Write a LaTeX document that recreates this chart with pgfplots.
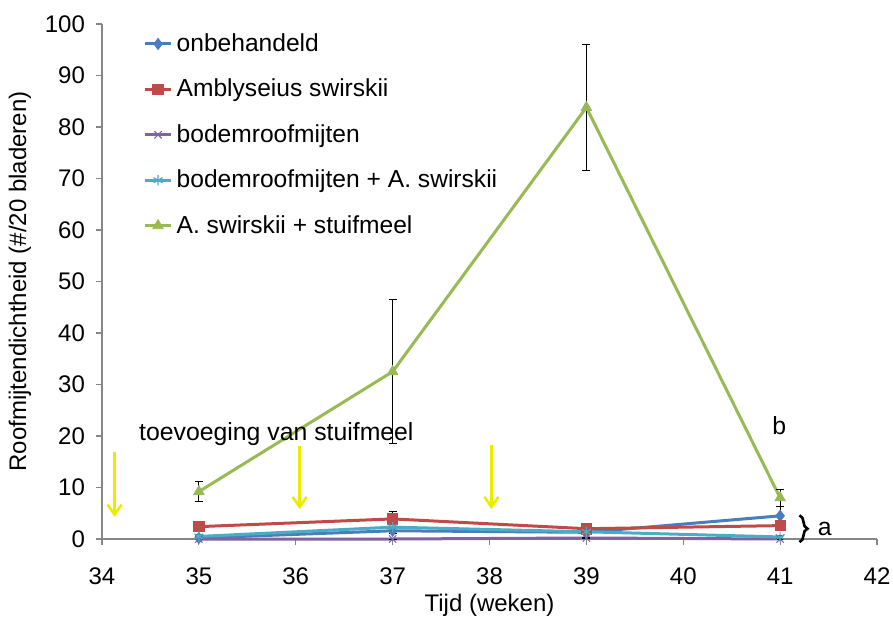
\documentclass[border=0pt]{standalone}
\usepackage{pgfplots}
\pgfplotsset{compat=1.18}
\usepackage{fontspec}
\setmainfont{Liberation Sans}
\usetikzlibrary{calc,arrows.meta,decorations.pathreplacing}
\definecolor{cblue}{RGB}{74,126,187}
\definecolor{cred}{RGB}{190,75,72}
\definecolor{cpurple}{RGB}{128,100,162}
\definecolor{ccyan}{RGB}{75,172,198}
\definecolor{cgreen}{RGB}{152,185,84}
\definecolor{cyel}{RGB}{235,235,0}
\definecolor{axgray}{RGB}{134,134,134}
\begin{document}
\begin{tikzpicture}
\begin{axis}[
  scale only axis, width=387.5pt, height=257.5pt,
  xmin=34, xmax=42, ymin=0, ymax=100,
  xtick={34,35,...,42}, ytick={0,10,...,100},
  axis x line*=bottom, axis y line*=left,
  axis line style={axgray, line width=0.6pt},
  tick style={axgray, line width=0.6pt},
  tick align=outside, major tick length=3pt,
  font=\fontsize{12}{14}\selectfont,
  /pgf/number format/assume math mode=true,
  xlabel={Tijd (weken)}, ylabel={Roofmijtendichtheid (\#/20 bladeren)},
  xlabel style={at={(axis description cs:0.5,0)}, anchor=center, yshift=-33pt},
  ylabel style={at={(axis description cs:-0.106,0.5)}, anchor=center, rotate=0},
  xticklabel style={yshift=-8pt},
  yticklabel style={xshift=-2pt},
  clip=false,
  legend cell align=left,
  legend style={at={(rel axis cs:0.053,0.99)}, anchor=north west, draw=none, fill=none,
    font=\fontsize{12.3}{14}\selectfont, row sep=8.3pt, inner sep=0pt},
  legend image code/.code={\draw[mark repeat=2,mark phase=2] plot coordinates {(0cm,0cm) (0.23cm,0cm) (0.46cm,0cm)};},
  every axis plot/.append style={line width=1.5pt},
  error bars/error bar style={black, line width=0.5pt},
  error bars/error mark options={black, rotate=90, mark size=2pt, line width=0.5pt},
]
\addplot[cblue, mark=diamond*, mark size=2.8pt, mark options={solid, fill=cblue, line width=0.4pt},
  error bars/.cd, y dir=both, y explicit] coordinates {
  (35,0.2) +- (0,0.3) (37,1.6) +- (0,0.5) (39,1.3) +- (0,0.3) (41,4.5) +- (0,1.9)};
\addlegendentry{onbehandeld}
\addplot[cred, mark=square*, mark size=2.6pt, mark options={solid, fill=cred, line width=0.4pt},
  error bars/.cd, y dir=both, y explicit] coordinates {
  (35,2.4) +- (0,0.8) (37,3.9) +- (0,1.4) (39,2.0) +- (0,0.4) (41,2.6) +- (0,0.6)};
\addlegendentry{Amblyseius swirskii}
\addplot[cpurple, mark=x, mark size=2.6pt, mark options={solid, line width=0.6pt},
  error bars/.cd, y dir=both, y explicit] coordinates {
  (35,0) +- (0,0) (37,0) +- (0,0) (39,0.2) +- (0,0.1) (41,0) +- (0,0)};
\addlegendentry{bodemroofmijten}
\addplot[ccyan, mark=asterisk, mark size=2.6pt, mark options={solid, line width=0.6pt},
  error bars/.cd, y dir=both, y explicit] coordinates {
  (35,0.5) +- (0,0.3) (37,2.3) +- (0,0.8) (39,1.4) +- (0,0.4) (41,0.4) +- (0,0.3)};
\addlegendentry{bodemroofmijten + A. swirskii}
\addplot[cgreen, mark=triangle*, mark size=3pt, mark options={solid, fill=cgreen, line width=0.4pt},
  error bars/.cd, y dir=both, y explicit] coordinates {
  (35,9.2) +- (0,1.9) (37,32.5) +- (0,14.0) (39,83.8) +- (0,12.2) (41,8.0) +- (0,1.6)};
\addlegendentry{A. swirskii + stuifmeel}
% annotations
\draw[cyel, line width=1.3pt, -{Straight Barb[length=5pt,width=7pt]}] (axis cs:34.13,16.9) -- (axis cs:34.13,4.3);
\draw[cyel, line width=1.3pt, -{Straight Barb[length=5pt,width=7pt]}] (axis cs:36.04,18.0) -- (axis cs:36.04,5.8);
\draw[cyel, line width=1.3pt, -{Straight Barb[length=5pt,width=7pt]}] (axis cs:38.02,18.3) -- (axis cs:38.02,5.8);
\node[anchor=west, inner sep=0pt, font=\fontsize{12.4}{14}\selectfont] at (axis cs:34.38,20.3) {toevoeging van stuifmeel};
\node[inner sep=0pt, font=\fontsize{12.4}{14}\selectfont] at (axis cs:40.99,22.1) {b};
\node[inner sep=0pt, font=\fontsize{12.4}{14}\selectfont] at (axis cs:41.46,2.0) {a};
\draw[black, line width=1.3pt, decorate, decoration={brace, amplitude=4pt}] (axis cs:41.2,4.6) -- (axis cs:41.2,-0.6);
\end{axis}
\pgfresetboundingbox
\path ($(current axis.south west)+(-51pt,-42pt)$) rectangle ($(current axis.north east)+(8pt,12pt)$);
\end{tikzpicture}
\end{document}
